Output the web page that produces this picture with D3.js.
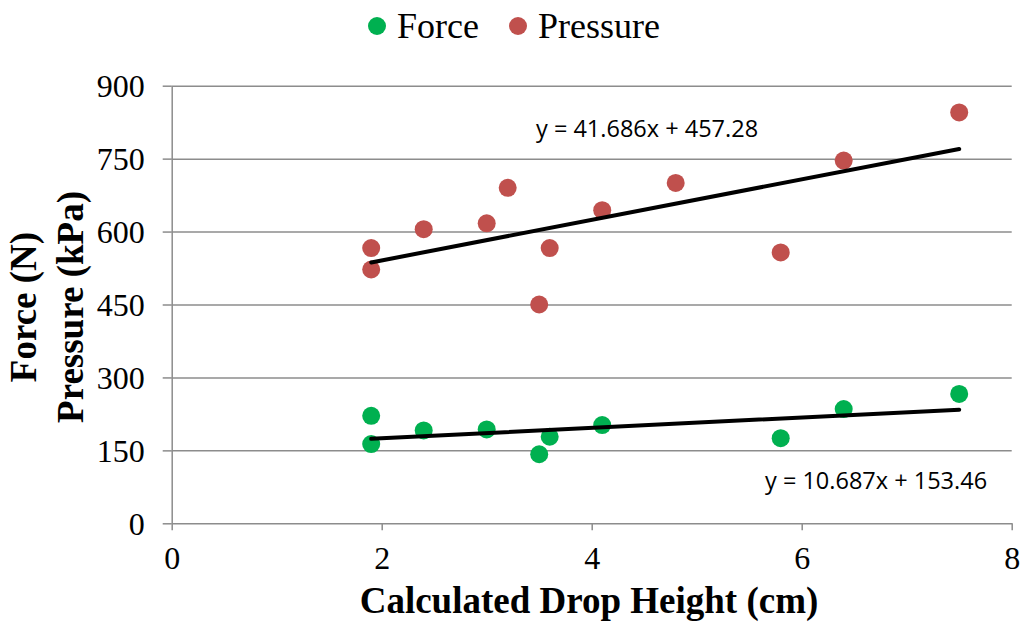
<!DOCTYPE html>
<html>
<head>
<meta charset="utf-8">
<script src="https://cdn.jsdelivr.net/npm/d3@7/dist/d3.min.js"></script>
<style>
  html, body { margin: 0; padding: 0; background: #fff; }
  svg { display: block; }
</style>
</head>
<body>
<svg id="chart" width="1022" height="630"></svg>
<script>
// ---- Data ----
const forceX = [1.9, 1.9, 2.4, 3.0, 3.6, 3.5, 4.1, 5.8, 6.4, 7.5];
const forceY = [221, 163, 191, 193, 178, 142, 202, 175, 235, 266];
const pressureX = [1.9, 1.9, 2.4, 3.0, 3.2, 3.6, 3.5, 4.1, 4.8, 5.8, 6.4, 7.5];
const pressureY = [566, 522, 605, 617, 690, 566, 450, 644, 700, 557, 746, 845];
const seriesNames = ["Force", "Pressure"];
const seriesColors = ["#00B050", "#C0504D"];
const forceTrend = [10.687, 153.46];      // slope, intercept
const pressureTrend = [41.686, 457.28];
const trendLabels = ["y = 10.687x + 153.46", "y = 41.686x + 457.28"];
const yTicks = [0, 150, 300, 450, 600, 750, 900];
const xTicks = [0, 2, 4, 6, 8];
const xTitle = "Calculated Drop Height (cm)";
const yTitleLines = ["Force (N)", "Pressure (kPa)"];

// ---- Layout ----
const svg = d3.select("#chart");
const plotL = 171.7, plotR = 1011.7, plotT = 85.7, plotB = 523.3;
const x = d3.scaleLinear().domain([0, 8]).range([plotL, plotR]);
const y = d3.scaleLinear().domain([0, 900]).range([plotB, plotT]);
const gridColor = "#8c8c8c";
const serif = "'Liberation Serif', 'Times New Roman', serif";

// gridlines
svg.append("g")
  .attr("transform", `translate(${plotL},0)`)
  .call(d3.axisLeft(y).tickValues(yTicks.filter(d => d > 0)).tickSize(-(plotR - plotL)).tickFormat(""))
  .call(g => g.select(".domain").remove())
  .call(g => g.selectAll("line").attr("stroke", gridColor).attr("stroke-width", 1.5));

// y axis
svg.append("g")
  .attr("transform", `translate(${plotL},0)`)
  .call(d3.axisLeft(y).tickValues(yTicks).tickSize(9).tickPadding(18).tickSizeOuter(0))
  .call(g => g.select(".domain").attr("stroke", gridColor).attr("stroke-width", 1.5))
  .call(g => g.selectAll("line").attr("stroke", gridColor).attr("stroke-width", 1.5))
  .call(g => g.selectAll("text").attr("font-family", serif).attr("font-size", 32).attr("fill", "#000").attr("dy", "0.34em"));

// x axis
svg.append("g")
  .attr("transform", `translate(0,${plotB})`)
  .call(d3.axisBottom(x).tickValues(xTicks).tickSize(7).tickPadding(16).tickSizeOuter(0))
  .call(g => g.select(".domain").attr("stroke", gridColor).attr("stroke-width", 1.5))
  .call(g => g.selectAll("line").attr("stroke", gridColor).attr("stroke-width", 1.5))
  .call(g => g.selectAll("text").attr("font-family", serif).attr("font-size", 32).attr("fill", "#000").attr("dy", "0.72em"));

// points
const forceData = forceX.map((v, i) => ({x: v, y: forceY[i]}));
const pressureData = pressureX.map((v, i) => ({x: v, y: pressureY[i]}));

svg.append("g").selectAll("circle").data(pressureData).join("circle")
  .attr("cx", d => x(d.x)).attr("cy", d => y(d.y)).attr("r", 9)
  .attr("fill", seriesColors[1]);
svg.append("g").selectAll("circle").data(forceData).join("circle")
  .attr("cx", d => x(d.x)).attr("cy", d => y(d.y)).attr("r", 9)
  .attr("fill", seriesColors[0]);

// trendlines
function trend(coef, xs) {
  const x0 = d3.min(xs), x1 = d3.max(xs);
  return [[x0, coef[0] * x0 + coef[1]], [x1, coef[0] * x1 + coef[1]]];
}
const line = d3.line().x(d => x(d[0])).y(d => y(d[1]));
svg.append("path").attr("d", line(trend(forceTrend, forceX)))
  .attr("stroke", "#000").attr("stroke-width", 4).attr("fill", "none").attr("stroke-linecap", "round");
svg.append("path").attr("d", line(trend(pressureTrend, pressureX)))
  .attr("stroke", "#000").attr("stroke-width", 4).attr("fill", "none").attr("stroke-linecap", "round");

// trend labels
const sans = "'Open Sans', 'Liberation Sans', sans-serif";
svg.append("text").attr("x", 765).attr("y", 489).text(trendLabels[0])
  .attr("font-family", sans).attr("font-size", 23.5).attr("fill", "#000");
svg.append("text").attr("x", 536).attr("y", 136.7).text(trendLabels[1])
  .attr("font-family", sans).attr("font-size", 23.5).attr("fill", "#000");

// axis titles
svg.append("text").attr("x", 589).attr("y", 613).attr("text-anchor", "middle")
  .attr("font-family", serif).attr("font-weight", "bold").attr("font-size", 37).text(xTitle);
const yt = svg.append("text").attr("transform", "translate(0,307) rotate(-90)")
  .attr("text-anchor", "middle").attr("font-family", serif).attr("font-weight", "bold").attr("font-size", 37);
yt.append("tspan").attr("x", 0).attr("y", 36).text(yTitleLines[0]);
yt.append("tspan").attr("x", 0).attr("y", 83).text(yTitleLines[1]);

// legend
const legendX = [377, 518];
const leg = svg.append("g");
seriesNames.forEach((name, i) => {
  leg.append("circle").attr("cx", legendX[i]).attr("cy", 26).attr("r", 9).attr("fill", seriesColors[i]);
  leg.append("text").attr("x", legendX[i] + 20).attr("y", 37.5).text(name)
    .attr("font-family", serif).attr("font-size", 36).attr("fill", "#000");
});
</script>
</body>
</html>
